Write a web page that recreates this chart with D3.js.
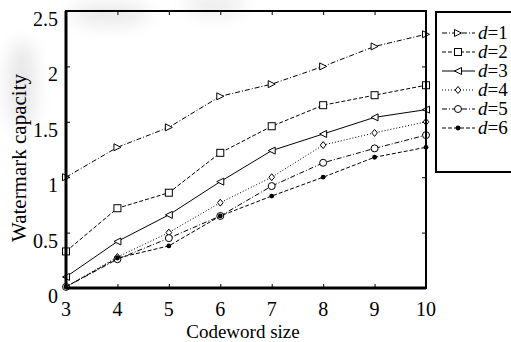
<!DOCTYPE html>
<html>
<head>
<meta charset="utf-8">
<script src="https://d3js.org/d3.v7.min.js"></script>
<style>
  body { margin: 0; background: #fff; }
  svg { display: block; font-family: "Liberation Serif", "Times New Roman", serif; }
</style>
</head>
<body>
<svg id="chart" width="511" height="342"></svg>
<script>
// codeword sizes on the x axis
const codewordSizes = [3, 4, 5, 6, 7, 8, 9, 10];
const yTicks = [0, 0.5, 1, 1.5, 2, 2.5];
const seriesNames = ['d=1', 'd=2', 'd=3', 'd=4', 'd=5', 'd=6'];

// watermark capacity
const d1 = [1.00, 1.27, 1.45, 1.73, 1.84, 2.00, 2.18, 2.29];
const d2 = [0.33, 0.72, 0.86, 1.22, 1.46, 1.65, 1.74, 1.83];
const d3v = [0.10, 0.42, 0.66, 0.96, 1.24, 1.39, 1.54, 1.61];
const d4 = [0.01, 0.28, 0.50, 0.77, 1.00, 1.29, 1.40, 1.50];
const d5 = [0.01, 0.26, 0.45, 0.65, 0.92, 1.13, 1.26, 1.38];
const d6 = [0.01, 0.27, 0.38, 0.65, 0.83, 1.00, 1.18, 1.27];

const seriesValues = [d1, d2, d3v, d4, d5, d6];
const dashes = ['5,2,1,2', '4,2', null, '1,2', '5,2,1,2', '4,2'];
const markers = ['triRight', 'square', 'triLeft', 'diamond', 'circle', 'star'];

const svg = d3.select('#chart');
const margin = { left: 66, right: 85, top: 11, bottom: 54 };
const W = 511, H = 342;

// faint scanned-page smudges in the background
const defs = svg.append('defs');
defs.append('filter').attr('id', 'blur').append('feGaussianBlur').attr('stdDeviation', 9);
const smudge = svg.append('g').attr('filter', 'url(#blur)').attr('fill', '#e6e6e6');
smudge.append('ellipse').attr('cx', 22).attr('cy', 85).attr('rx', 14).attr('ry', 45);
smudge.append('ellipse').attr('cx', 110).attr('cy', 14).attr('rx', 40).attr('ry', 10);
smudge.append('ellipse').attr('cx', 215).attr('cy', 5).attr('rx', 30).attr('ry', 8);

const x = d3.scaleLinear().domain([3, 10]).range([margin.left, W - margin.right]);
const y = d3.scaleLinear().domain([0, 2.5]).range([H - margin.bottom, margin.top]);

const g = svg.append('g');

// ticks pointing inward, on all four sides
g.append('g').attr('transform', `translate(0,${y(0)})`)
  .call(d3.axisBottom(x).tickValues(codewordSizes).tickSizeInner(-4).tickSizeOuter(0).tickFormat(''))
  .call(a => a.select('.domain').remove());
g.append('g').attr('transform', `translate(0,${y(2.5)})`)
  .call(d3.axisTop(x).tickValues(codewordSizes).tickSizeInner(-4).tickSizeOuter(0).tickFormat(''))
  .call(a => a.select('.domain').remove());
g.append('g').attr('transform', `translate(${x(3)},0)`)
  .call(d3.axisLeft(y).tickValues(yTicks).tickSizeInner(-4).tickSizeOuter(0).tickFormat(''))
  .call(a => a.select('.domain').remove());
g.append('g').attr('transform', `translate(${x(10)},0)`)
  .call(d3.axisRight(y).tickValues(yTicks).tickSizeInner(-4).tickSizeOuter(0).tickFormat(''))
  .call(a => a.select('.domain').remove());
g.selectAll('.tick line').attr('stroke', '#000').attr('stroke-width', 1);

// tick labels
g.append('g').selectAll('text').data(codewordSizes).enter().append('text')
  .attr('x', d => x(d)).attr('y', y(0) + 28)
  .attr('text-anchor', 'middle').attr('font-size', 20).text(d => d);
g.append('g').selectAll('text').data(yTicks).enter().append('text')
  .attr('x', x(3) - 8).attr('y', d => y(d) + 15)
  .attr('text-anchor', 'end').attr('font-size', 20).text(d => d);

// axis titles
svg.append('text').attr('x', 243).attr('y', 338)
  .attr('text-anchor', 'middle').attr('font-size', 19).text('Codeword size');
svg.append('text').attr('transform', `translate(26,158) rotate(-90)`)
  .attr('text-anchor', 'middle').attr('font-size', 21).text('Watermark capacity');

function drawMarker(sel, type, cx, cy) {
  const s = 3.5;
  let m;
  if (type === 'triRight') {
    m = sel.append('path').attr('d', `M${cx - s},${cy - s}L${cx + s},${cy}L${cx - s},${cy + s}Z`);
  } else if (type === 'triLeft') {
    m = sel.append('path').attr('d', `M${cx + s},${cy - s}L${cx - s},${cy}L${cx + s},${cy + s}Z`);
  } else if (type === 'square') {
    m = sel.append('rect').attr('x', cx - s).attr('y', cy - s).attr('width', 2 * s).attr('height', 2 * s);
  } else if (type === 'diamond') {
    m = sel.append('path').attr('d', `M${cx},${cy - s}L${cx + s * 0.8},${cy}L${cx},${cy + s}L${cx - s * 0.8},${cy}Z`);
  } else if (type === 'circle') {
    m = sel.append('circle').attr('cx', cx).attr('cy', cy).attr('r', s);
  } else {
    sel.append('circle').attr('cx', cx).attr('cy', cy).attr('r', 2.4).attr('fill', '#000');
    return;
  }
  m.attr('fill', '#fff').attr('stroke', '#000').attr('stroke-width', 1);
}

const line = d3.line().x((d, i) => x(codewordSizes[i])).y(d => y(d));

seriesValues.forEach((vals, k) => {
  g.append('path').datum(vals)
    .attr('d', line).attr('fill', 'none').attr('stroke', '#000').attr('stroke-width', 1)
    .attr('stroke-dasharray', dashes[k]);
  const mg = g.append('g');
  vals.forEach((v, i) => drawMarker(mg, markers[k], x(codewordSizes[i]), y(v)));
});

// plot frame
svg.append('rect').attr('x', x(3)).attr('y', y(2.5))
  .attr('width', x(10) - x(3)).attr('height', y(0) - y(2.5))
  .attr('fill', 'none').attr('stroke', '#000').attr('stroke-width', 2);
svg.append('line').attr('x1', x(3)).attr('x2', x(3)).attr('y1', y(2.5)).attr('y2', y(0))
  .attr('stroke', '#000').attr('stroke-width', 3);
svg.append('line').attr('x1', x(3)).attr('x2', x(10)).attr('y1', y(0)).attr('y2', y(0))
  .attr('stroke', '#000').attr('stroke-width', 3);

// legend
const lg = svg.append('g');
lg.append('rect').attr('x', 436).attr('y', 12).attr('width', 90).attr('height', 160)
  .attr('fill', '#fff').attr('stroke', '#000').attr('stroke-width', 2);
seriesNames.forEach((name, k) => {
  const ly = 33 + k * 19;
  lg.append('line').attr('x1', 442).attr('x2', 475).attr('y1', ly).attr('y2', ly)
    .attr('stroke', '#000').attr('stroke-width', 1).attr('stroke-dasharray', dashes[k]);
  drawMarker(lg, markers[k], 458, ly);
  const t = lg.append('text').attr('x', 478).attr('y', ly + 6).attr('font-size', 19);
  t.append('tspan').attr('font-style', 'italic').text('d');
  t.append('tspan').text(name.slice(1));
});
</script>
</body>
</html>
